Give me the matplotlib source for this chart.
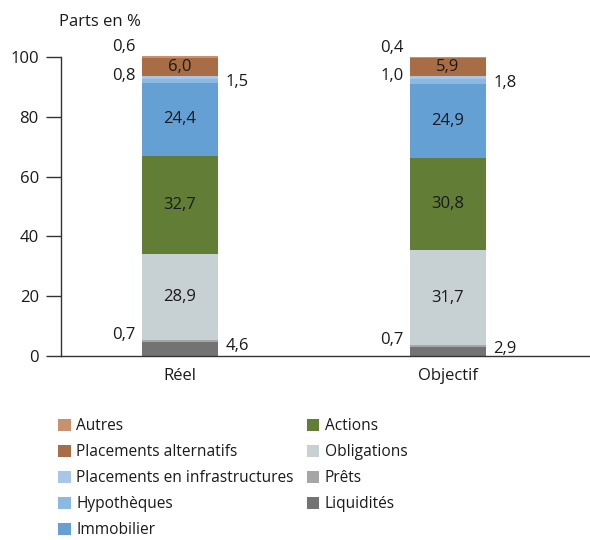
import matplotlib
matplotlib.use("Agg")
import matplotlib.pyplot as plt
import numpy as np

plt.rcParams['font.family'] = ['Open Sans', 'DejaVu Sans']

categories = ["Réel", "Objectif"]
series = ["Liquidités", "Prêts", "Obligations", "Actions", "Immobilier",
          "Hypothèques", "Placements en infrastructures", "Placements alternatifs", "Autres"]
liquidites = [4.6, 2.9]
prets = [0.7, 0.7]
obligations = [28.9, 31.7]
actions = [32.7, 30.8]
immobilier = [24.4, 24.9]
hypotheques = [1.5, 1.8]
infrastructures = [0.8, 1.0]
alternatifs = [6.0, 5.9]
autres = [0.6, 0.4]
values = [liquidites, prets, obligations, actions, immobilier,
          hypotheques, infrastructures, alternatifs, autres]
colors = ["#737373", "#a6a6a6", "#c7d0d3", "#627d36", "#64a0d4",
          "#8db8e2", "#a8c7e6", "#a96d45", "#c8916d"]
# label placement: 'in', 'left', 'right'
placement = ["right", "left", "in", "in", "in", "right", "left", "in", "left"]
yoff = [1.0, 2.0, 0, 0, 0, -0.5, 0.5, 0, 0]

FS = 12
LFS = 11.2
fig = plt.figure(figsize=(5.9, 5.4), dpi=100)
ax = fig.add_axes([61/590, 184/540, 529/590, 299/540])

x = np.arange(len(categories))
width = 0.287
bottom = np.zeros(len(categories))
handles = {}
txtc = "#1a1a1a"
for name, vals, col, pl, off in zip(series, values, colors, placement, yoff):
    vals = np.array(vals)
    b = ax.bar(x, vals, width, bottom=bottom, color=col, clip_on=False, zorder=2)
    handles[name] = b
    for i in range(len(categories)):
        mid = bottom[i] + vals[i] / 2
        lab = f"{vals[i]:.1f}".replace(".", ",")
        if name == "Autres":
            ax.text(x[i] - width/2 - 0.022, bottom[i] + vals[i] + 3.0, lab,
                    ha="right", va="center", fontsize=FS, color=txtc)
        elif pl == "in":
            ax.text(x[i], mid, lab, ha="center", va="center", fontsize=FS, color=txtc)
        elif pl == "left":
            ax.text(x[i] - width/2 - 0.022, mid + off, lab, ha="right", va="center",
                    fontsize=FS, color=txtc)
        else:
            ax.text(x[i] + width/2 + 0.025, mid + off, lab, ha="left", va="center",
                    fontsize=FS, color=txtc)
    bottom += vals

ax.set_xlim(-0.444, 1.53)
ax.set_ylim(0, 100)
ax.set_yticks([0, 20, 40, 60, 80, 100])
ax.set_xticks(x)
ax.set_xticklabels(categories)
for s in ["top", "right"]:
    ax.spines[s].set_visible(False)
for s in ["left", "bottom"]:
    ax.spines[s].set_color("#333333")
    ax.spines[s].set_linewidth(1.0)
ax.tick_params(axis="x", length=0, pad=9, labelsize=FS, labelcolor=txtc)
ax.tick_params(axis="y", length=11, width=1, color="#333333", pad=5,
               labelsize=FS, labelcolor=txtc)

fig.text(59/590, 1 - 22/540, "Parts en %", ha="left", va="center",
         fontsize=FS, color=txtc)

order = ["Autres", "Placements alternatifs", "Placements en infrastructures",
         "Hypothèques", "Immobilier", "Actions", "Obligations", "Prêts", "Liquidités"]
leg = fig.legend([handles[n] for n in order], order, ncol=2,
                 loc="upper left", bbox_to_anchor=(52/590, 1 - 412/540),
                 frameon=False, fontsize=LFS, handlelength=0.8, handleheight=0.8,
                 handletextpad=0.35, labelspacing=0.64, columnspacing=0.85,
                 borderaxespad=0)
for t in leg.get_texts():
    t.set_color(txtc)

fig.savefig("out.png", dpi=100)
